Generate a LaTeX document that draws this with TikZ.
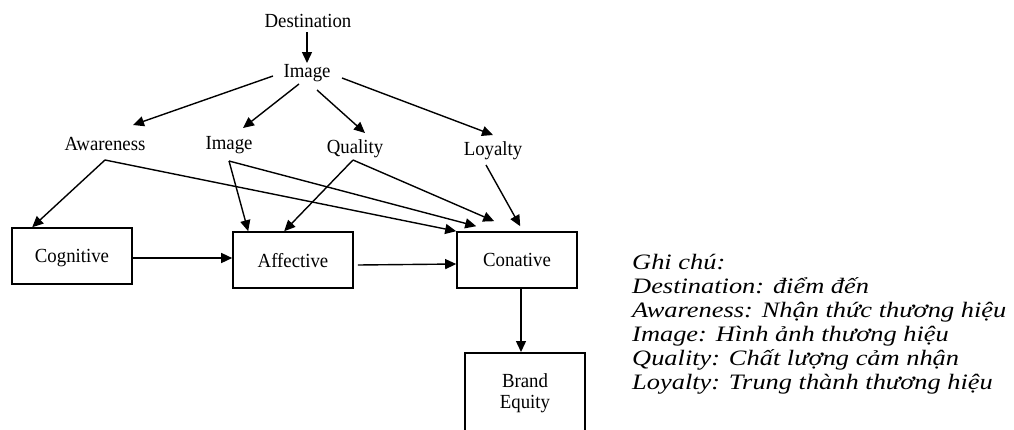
\documentclass[tikz,border=0pt]{standalone}
\usepackage{fontspec}
\setmainfont{Liberation Serif}
\newfontfamily\diagfont[FakeStretch=0.94]{Liberation Serif}
\newfontfamily\legendfont[FakeStretch=1.2]{Liberation Serif}
\usetikzlibrary{arrows.meta,calc}
\begin{document}
\begin{tikzpicture}[x=1pt,y=-1pt,
  lbl/.style={inner sep=0pt, anchor=base, font=\diagfont\fontsize{20}{21}\selectfont},
  boxnode/.style={draw, line width=1.6pt, minimum width=120pt, minimum height=56pt, inner sep=0pt, align=center, text depth=0pt, font=\diagfont\fontsize{20}{21}\selectfont},
  arr/.style={line width=1.4pt, -{Triangle[length=11pt,width=10pt]}},
  legend/.style={inner sep=0pt, anchor=base west, font=\legendfont\fontsize{22}{24}\selectfont\itshape}]
\path[use as bounding box] (0,0) rectangle (1014,429);
\clip (0,0) rectangle (1014,429);

% text labels
\node[lbl] (dest) at (308,27) {Destination};
\node[lbl] (img) at (307,77) {Image};
\node[lbl] (aw) at (105,150) {Awareness};
\node[lbl] (img2) at (229,149) {Image};
\node[lbl] (qual) at (355,153) {Quality};
\node[lbl] (loy) at (493,155) {Loyalty};

% boxes
\node[boxnode] (cog) at (72,256) {Cognitive};
\node[boxnode] (aff) at (293,260) {Affective};
\node[boxnode] (con) at (517,260) {Conative};
\node[boxnode, minimum height=80pt, anchor=north, text depth=] (be) at (525,352) {Brand\\Equity};

% branch points
\coordinate (awb) at ($(aw.base)+(0,10)$);
\coordinate (img2b) at ($(img2.base)+(0,12)$);
\coordinate (qualb) at ($(qual.base)+(-2,7)$);
\coordinate (loyb) at ($(loy.base)+(-7,10)$);

% top arrows
\draw[arr] ($(dest.base)+(-1,5)$) -- ($(img.base)+(0,-14)$);
\draw[arr] ($(img.base)+(-34,-1)$) -- ($(aw.base)+(28,-25)$);
\draw[arr] ($(img.base)+(-8,7)$) -- ($(img2.base)+(14,-21)$);
\draw[arr] ($(img.base)+(10,13)$) -- ($(qual.base)+(10,-20)$);
\draw[arr] ($(img.base)+(35,1)$) -- ($(loy.base)+(0,-20)$);

% from dimensions to boxes
\draw[arr] (awb) -- ($(cog.north west)+(21,0)$);
\draw[arr] (awb) -- (con.north west);
\draw[arr] (img2b) -- ($(aff.north west)+(16,0)$);
\draw[arr] (img2b) -- ($(con.north west)+(20,-5)$);
\draw[arr] (qualb) -- ($(aff.north west)+(52,0)$);
\draw[arr] (qualb) -- ($(con.north west)+(38,-10)$);
\draw[arr] (loyb) -- ($(con.north west)+(64,-5)$);

% main chain
\draw[arr] ($(cog.east)+(0,2)$) -- ($(aff.west)+(0,-2)$);
\draw[arr] ($(aff.east)+(4,5)$) -- ($(con.west)+(0,4)$);
\draw[arr] ($(con.south)+(4,0)$) -- ($(be.north)+(-4,0)$);

% legend
\node[legend] (l1) at (632,269) {Ghi chú:};
\node[legend] (l2) at (632,293) {Destination: điểm đến};
\node[legend] (l3) at (632,317) {Awareness: Nhận thức thương hiệu};
\node[legend] (l4) at (632,341) {Image: Hình ảnh thương hiệu};
\node[legend] (l5) at (632,365) {Quality: Chất lượng cảm nhận};
\node[legend] (l6) at (632,389) {Loyalty: Trung thành thương hiệu};
\end{tikzpicture}
\end{document}
